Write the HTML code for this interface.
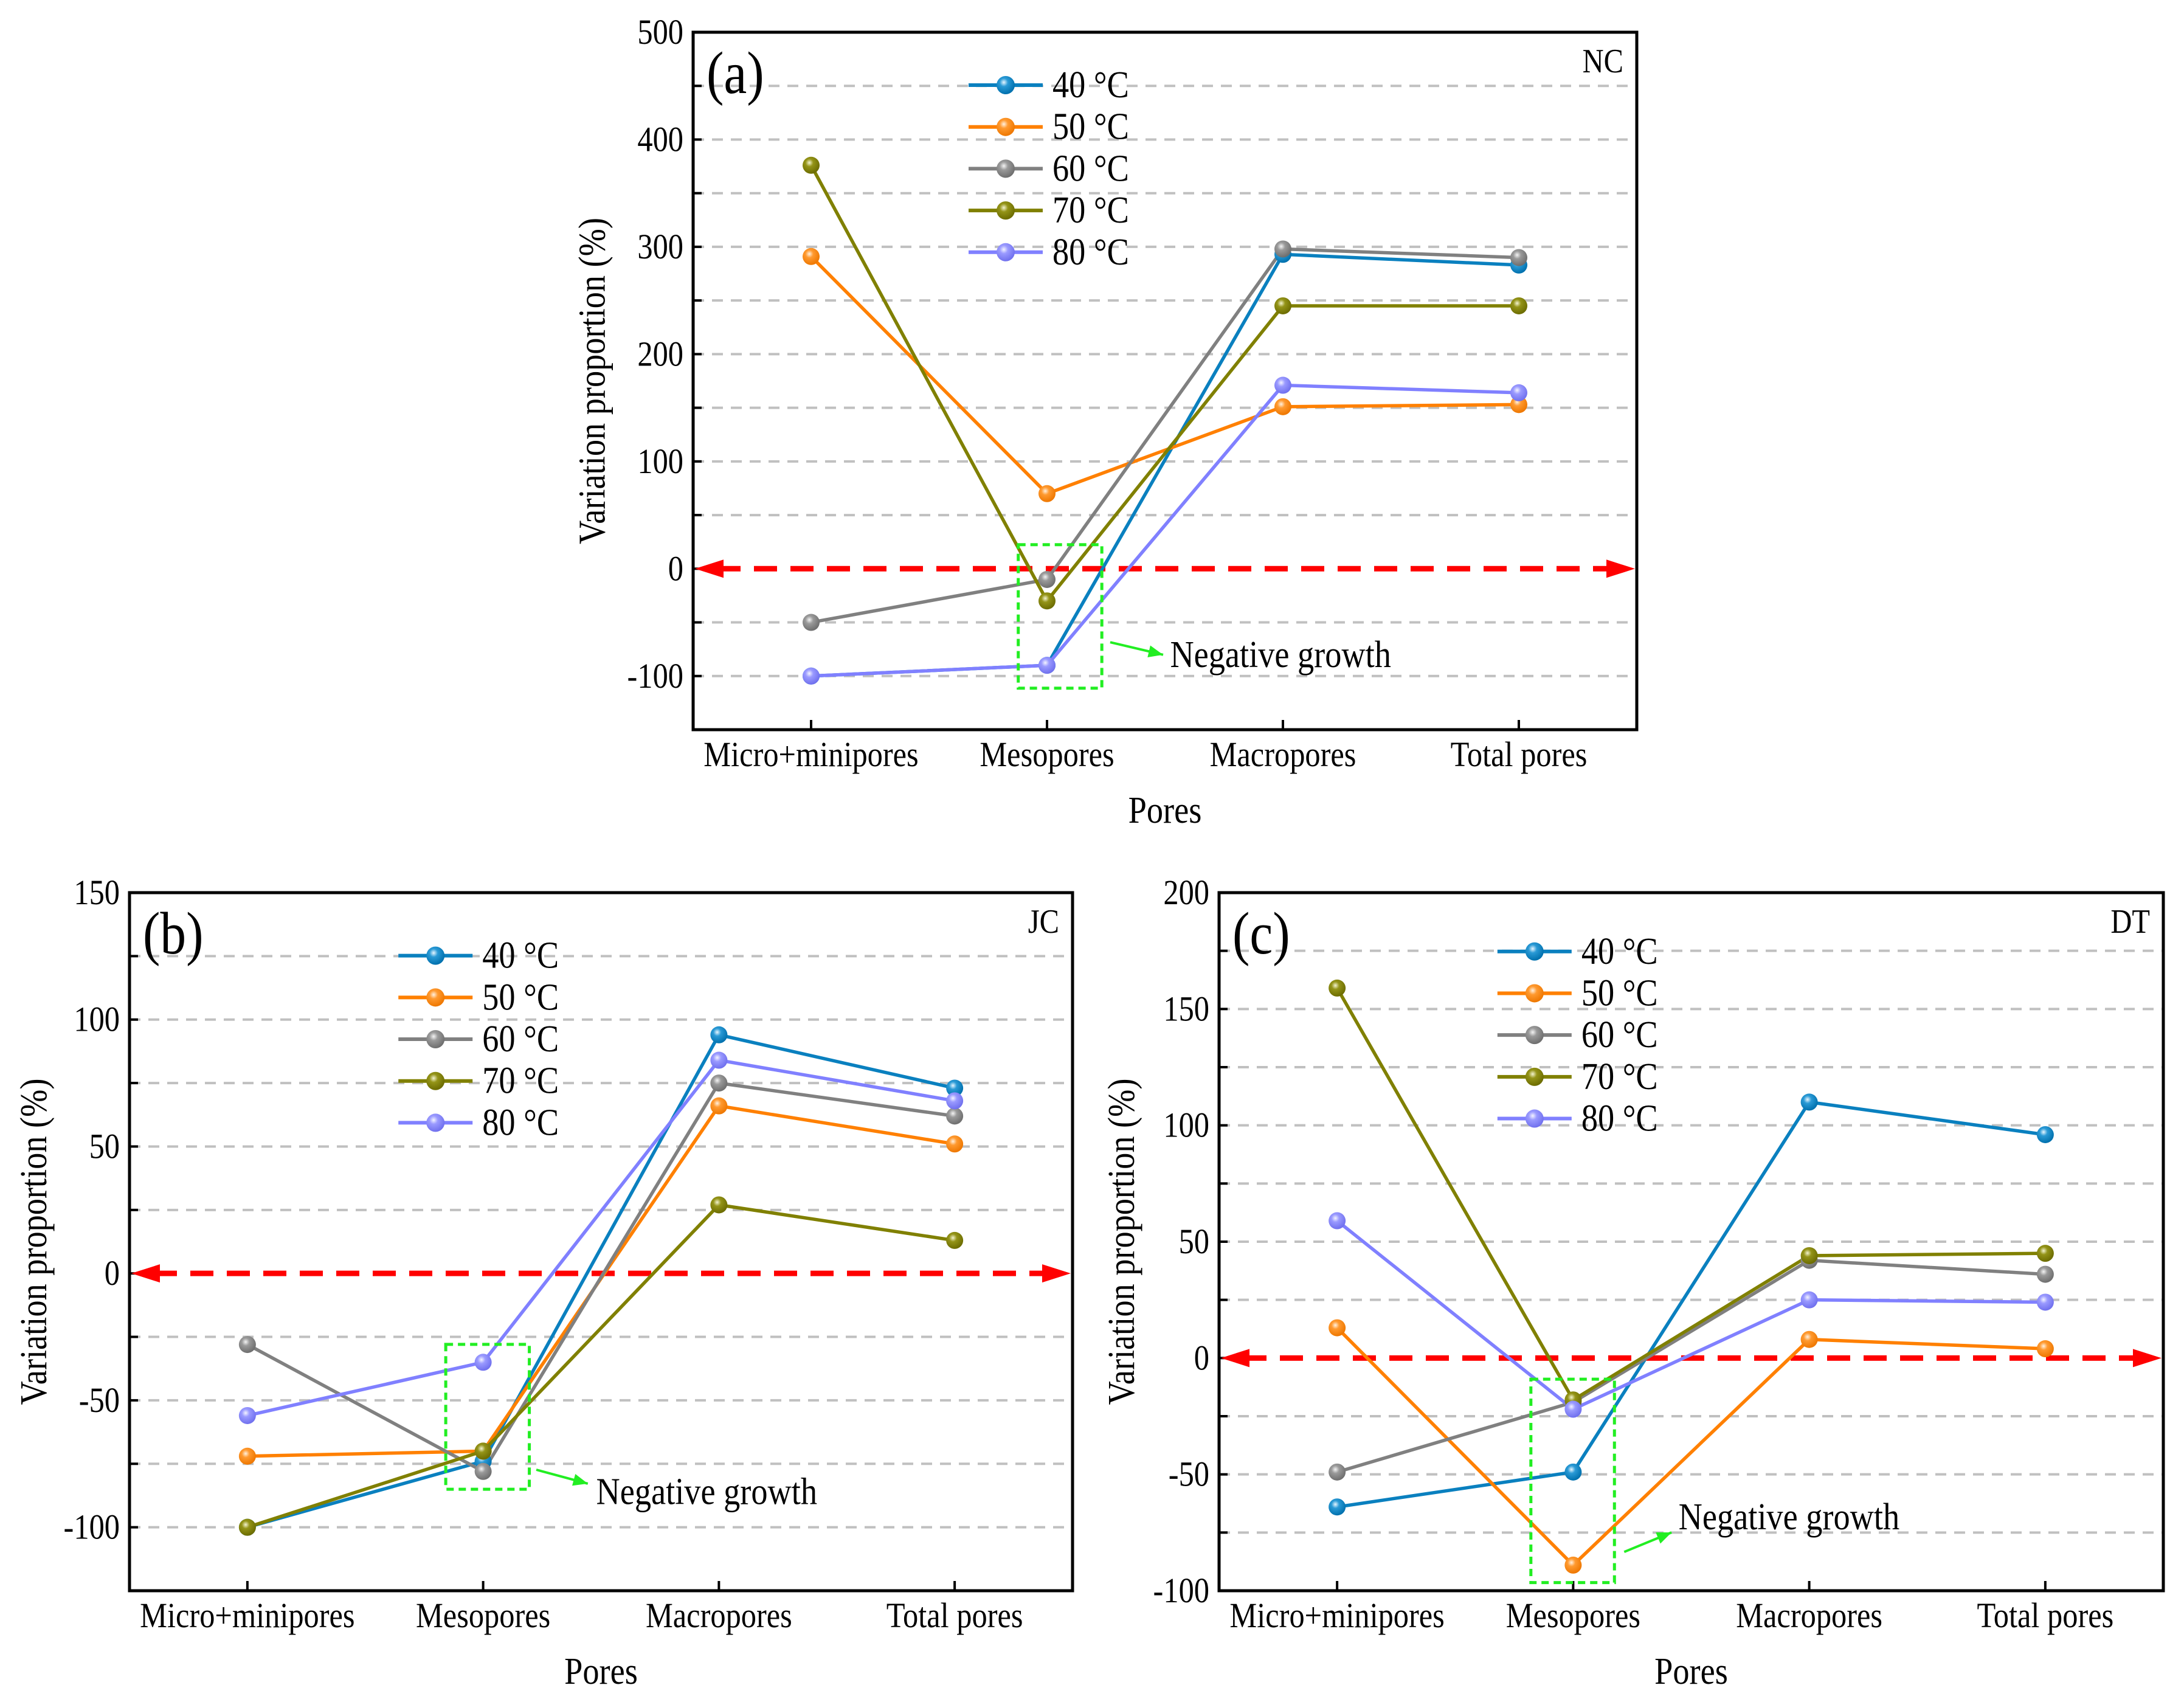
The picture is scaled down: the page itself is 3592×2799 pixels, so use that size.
<!DOCTYPE html>
<html><head><meta charset="utf-8"><style>
html,body{margin:0;padding:0;background:#fff;}
svg{display:block;font-family:"Liberation Serif",serif;}
</style></head><body>
<svg id="fig" width="3592" height="2799" viewBox="0 0 3592 2799" xmlns="http://www.w3.org/2000/svg">
<defs>
<radialGradient id="g0" cx="0.4" cy="0.35" r="0.65"><stop offset="0" stop-color="#e8f6ff"/><stop offset="0.35" stop-color="#2a9ad6"/><stop offset="1" stop-color="#0070ad"/></radialGradient>
<radialGradient id="g1" cx="0.4" cy="0.35" r="0.65"><stop offset="0" stop-color="#fff1e0"/><stop offset="0.35" stop-color="#ff9a30"/><stop offset="1" stop-color="#ee7700"/></radialGradient>
<radialGradient id="g2" cx="0.4" cy="0.35" r="0.65"><stop offset="0" stop-color="#f4f4f4"/><stop offset="0.35" stop-color="#9a9a9a"/><stop offset="1" stop-color="#6e6e6e"/></radialGradient>
<radialGradient id="g3" cx="0.4" cy="0.35" r="0.65"><stop offset="0" stop-color="#f3f3d0"/><stop offset="0.35" stop-color="#949418"/><stop offset="1" stop-color="#6c6c00"/></radialGradient>
<radialGradient id="g4" cx="0.4" cy="0.35" r="0.65"><stop offset="0" stop-color="#f4f4ff"/><stop offset="0.35" stop-color="#9a9aff"/><stop offset="1" stop-color="#7070ee"/></radialGradient>
</defs>
</svg>
<script>
// ---- data ----
const categories = ["Micro+minipores","Mesopores","Macropores","Total pores"];
const seriesNames = ["40 °C","50 °C","60 °C","70 °C","80 °C"];
const aT40 = [-100,-90,293,283];
const aT50 = [291,70,151,153];
const aT60 = [-50,-10,298,290];
const aT70 = [376,-30,245,245];
const aT80 = [-100,-90,171,164];
const bT40 = [-100,-74,94,73];
const bT50 = [-72,-70,66,51];
const bT60 = [-28,-78,75,62];
const bT70 = [-100,-70,27,13];
const bT80 = [-56,-35,84,68];
const cT40 = [-64,-49,110,96];
const cT50 = [13,-89,8,4];
const cT60 = [-49,-19,42,36];
const cT70 = [159,-18,44,45];
const cT80 = [59,-22,25,24];
const aTicks = [-100,0,100,200,300,400,500];
const bTicks = [-100,-50,0,50,100,150];
const cTicks = [-100,-50,0,50,100,150,200];

const colors = ["#0a80bf","#ff8000","#808080","#808000","#8080ff"];
const NS = "http://www.w3.org/2000/svg";
const svg = document.getElementById("fig");
function mk(tag, attrs, parent){
  const e = document.createElementNS(NS, tag);
  for (const k in attrs) e.setAttribute(k, attrs[k]);
  (parent||svg).appendChild(e);
  return e;
}
function txt(g, x, y, str, size, anchor, extra){
  const t = mk("text",Object.assign({x:0,y:0,"text-anchor":anchor||"start","font-size":size,
    transform:`translate(${x},${y}) scale(0.97,1.12)`},extra||{}),g);
  t.textContent = str;
  return t;
}

function panel(cfg){
  const g = mk("g", {});
  
  
  const L=cfg.L,R=cfg.R,T=cfg.T,B=cfg.B;
  const y = v => B - (v - cfg.ymin)/(cfg.ymax-cfg.ymin)*(B-T);
  const x = i => L + (i+0.5)/4*(R-L);
  for (let v=cfg.ymin+cfg.minor; v<cfg.ymax-0.001; v+=cfg.minor){
    if (Math.abs(v)<1e-6) continue;
    const gl = mk("line",{x1:L,x2:R,y1:y(v),y2:y(v),stroke:"#c0c0c0","stroke-width":4,"stroke-dasharray":"18 13"},g);
    
    
  }
  for (const v of cfg.ticks){
    const t = txt(g, L-16, y(v)+19, String(v), 52, "end");
    
    
  }
  for (let v=cfg.ymin+cfg.minor; v<cfg.ymax-0.001; v+=cfg.minor){
    mk("line",{x1:L,x2:L+14,y1:y(v),y2:y(v),stroke:"#000","stroke-width":4},g);
  }
  categories.forEach((c,i)=>{
    mk("line",{x1:x(i),x2:x(i),y1:B,y2:B-16,stroke:"#000","stroke-width":4},g);
    const t = txt(g, x(i), B+60, c, 52, "middle");
    
    
  });
  const z = y(0);
  const zl = mk("line",{x1:L+40,x2:R-40,y1:z,y2:z,stroke:"#ff0000","stroke-width":9,"stroke-dasharray":"38 22"},g);
  
  
  mk("polygon",{points:`${L+3},${z} ${L+50},${z-15} ${L+50},${z+15}`,fill:"#ff0000"},g);
  mk("polygon",{points:`${R-3},${z} ${R-50},${z-15} ${R-50},${z+15}`,fill:"#ff0000"},g);
  cfg.series.forEach((s,k)=>{
    const pts = s.map((v,i)=>x(i)+","+y(v)).join(" ");
    const pl = mk("polyline",{points:pts,fill:"none",stroke:colors[k],"stroke-width":5.5},g);
    
    
  });
  cfg.series.forEach((s,k)=>{
    s.forEach((v,i)=>{
      const c = mk("circle",{cx:x(i),cy:y(v),r:14,fill:"url(#g"+k+")"},g);
      
      
    });
  });
  const fr = mk("rect",{x:L,y:T,width:R-L,height:B-T,fill:"none",stroke:"#000","stroke-width":5},g);
  
  
  seriesNames.forEach((n,k)=>{
    const ly = cfg.legY + k*68.7;
    const lx = cfg.legX;
    mk("line",{x1:lx,x2:lx+122,y1:ly,y2:ly,stroke:colors[k],"stroke-width":6},g);
    mk("circle",{cx:lx+61,cy:ly,r:15,fill:"url(#g"+k+")"},g);
    const t = txt(g, lx+138, ly+20, n, 56, "start");
    
    
  });
  const pt = txt(g, L+22, T+100, cfg.letter, 88, "start");
  
  
  const st = txt(g, R-22, T+66, cfg.site, 50, "end");
  
  
  const yt = mk("text",{x:0,y:0,"text-anchor":"middle","font-size":56,transform:`translate(${cfg.ytx},${(T+B)/2}) rotate(-90) scale(0.97,1.12)`},g);
  
  
  yt.textContent = "Variation proportion (%)";
  const xt = txt(g, (L+R)/2, B+153, "Pores", 56, "middle");
  
  
  const bx = cfg.box;
  const br = mk("rect",{x:bx[0],y:bx[1],width:bx[2]-bx[0],height:bx[3]-bx[1],fill:"none",stroke:"#22ee22","stroke-width":5,"stroke-dasharray":"12 8"},g);
  
  
  const a = cfg.arrow;
  mk("line",{x1:a[0],y1:a[1],x2:a[2],y2:a[3],stroke:"#22ee22","stroke-width":4},g);
  const ang = Math.atan2(a[3]-a[1],a[2]-a[0]);
  const hx = a[2], hy = a[3], hl=24, hw=10;
  const p1 = [hx - hl*Math.cos(ang) + hw*Math.sin(ang), hy - hl*Math.sin(ang) - hw*Math.cos(ang)];
  const p2 = [hx - hl*Math.cos(ang) - hw*Math.sin(ang), hy - hl*Math.sin(ang) + hw*Math.cos(ang)];
  mk("polygon",{points:`${hx},${hy} ${p1[0]},${p1[1]} ${p2[0]},${p2[1]}`,fill:"#22ee22"},g);
  const nt = txt(g, cfg.noteX, cfg.noteY, "Negative growth", 56, "start");
  
  
}

const s = 2.291;
panel({id:"a",L:1140,R:2692,T:53,B:1200,ymin:-150,ymax:500,minor:50,ticks:aTicks,
  series:[aT40,aT50,aT60,aT70,aT80],legX:1593,legY:140,letter:"(a)",site:"NC",ytx:428*s+14,
  box:[731*s,391*s,791*s,494*s],arrow:[797*s,461*s,835*s,470*s],noteX:840*s,noteY:470*s+20});
panel({id:"b",L:213,R:1764,T:1468,B:2616,ymin:-125,ymax:150,minor:25,ticks:bTicks,
  series:[bT40,bT50,bT60,bT70,bT80],legX:286*s,legY:686*s,letter:"(b)",site:"JC",ytx:27*s+14,
  box:[320*s,965*s,380*s,1069*s],arrow:[385*s,1055*s,422*s,1065*s],noteX:428*s,noteY:1071*s+20});
panel({id:"c",L:2005,R:3558,T:1468,B:2616,ymin:-100,ymax:200,minor:25,ticks:cTicks,
  series:[cT40,cT50,cT60,cT70,cT80],legX:1075*s,legY:683*s,letter:"(c)",site:"DT",ytx:808*s+14,
  box:[1099*s,990*s,1159*s,1136*s],arrow:[1166*s,1114*s,1200*s,1100*s],noteX:1205*s,noteY:1089*s+20});
</script>
</body></html>
